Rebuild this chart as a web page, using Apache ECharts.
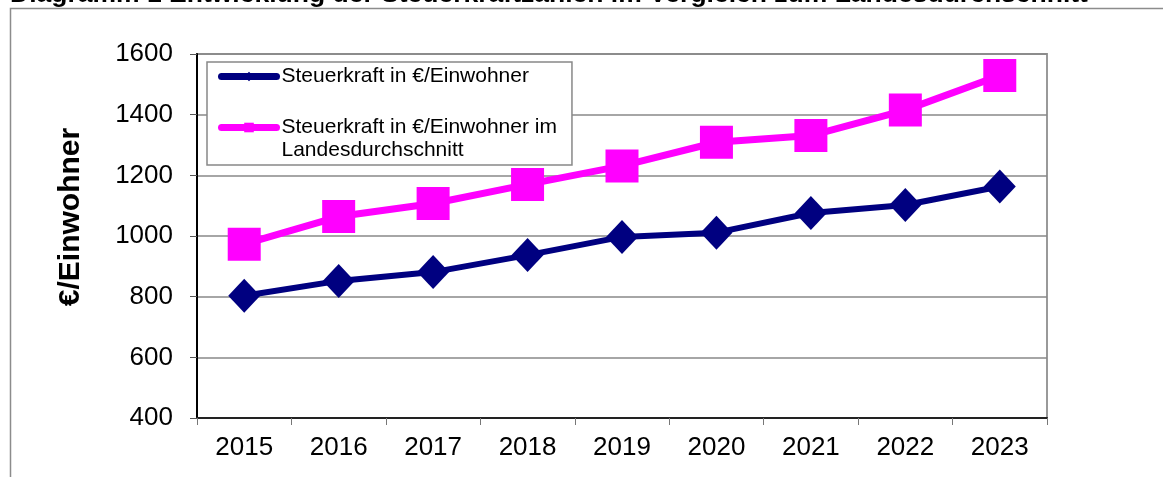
<!DOCTYPE html>
<html>
<head>
<meta charset="utf-8">
<script src="https://cdn.jsdelivr.net/npm/echarts@6/dist/echarts.min.js"></script>
<style>
  html, body { margin: 0; padding: 0; background: #fff; }
  #chart { width: 1163px; height: 477px; }
</style>
</head>
<body>
<div id="chart"></div>
<script>
const years = ['2015', '2016', '2017', '2018', '2019', '2020', '2021', '2022', '2023'];
const steuerkraft = [803, 852, 881, 937, 997, 1011, 1076, 1102, 1163];
const landesdurchschnitt = [973, 1064, 1107, 1170, 1231, 1309, 1331, 1415, 1529];
const yTicks = { min: 400, max: 1600, step: 200 };

const titleText = 'Diagramm 1 Entwicklung der Steuerkraftzahlen im Vergleich zum Landesdurchschnitt';
const name1 = 'Steuerkraft in €/Einwohner';
const name2 = 'Steuerkraft in €/Einwohner im\nLandesdurchschnitt';

const font = 'Liberation Sans, Arial, sans-serif';

const chart = echarts.init(document.getElementById('chart'));

const option = {
  backgroundColor: '#fff',
  animation: false,
  title: {
    text: titleText,
    left: 10,
    top: -19,
    padding: 0,
    textStyle: { fontFamily: font, fontSize: 26.5, fontWeight: 'bold', color: '#000' }
  },
  // outer chart frame, cut off at the right and bottom
  graphic: [{
    type: 'rect',
    shape: { x: 10.5, y: 8.5, width: 1300, height: 600 },
    style: { fill: 'none', stroke: '#8c8c8c', lineWidth: 1.5 },
    silent: true
  }],
  grid: { left: 197, right: 116, top: 54, bottom: 59, show: true, borderColor: '#999', borderWidth: 2, backgroundColor: 'transparent' },
  legend: {
    orient: 'vertical',
    left: 207,
    top: 62,
    padding: [3, 15, 3, 11],
    itemGap: 5,
    itemWidth: 55,
    itemHeight: 12,
    backgroundColor: '#fff',
    borderColor: '#888',
    borderWidth: 1.5,
    borderRadius: 0,
    lineStyle: { width: 7, cap: 'round' },
    textStyle: { fontFamily: font, fontSize: 21, color: '#000', lineHeight: 23 },
    // leading empty line keeps the first text line level with the icon
    formatter: n => (n === name2 ? '\n' + n : n),
    data: [name1, name2]
  },
  xAxis: {
    type: 'category',
    data: years,
    boundaryGap: true,
    axisLine: { lineStyle: { color: '#222', width: 2 } },
    axisTick: { show: true, length: 7, lineStyle: { color: '#777', width: 1 } },
    axisLabel: { fontFamily: font, fontSize: 26, color: '#000', margin: 17 }
  },
  yAxis: {
    type: 'value',
    min: yTicks.min,
    max: yTicks.max,
    interval: yTicks.step,
    name: '€/Einwohner',
    nameLocation: 'middle',
    nameGap: 111,
    nameTextStyle: { fontFamily: font, fontSize: 30, fontWeight: 'bold', color: '#000', padding: [0, 0, 0, 38] },
    axisLine: { show: true, lineStyle: { color: '#000', width: 2 } },
    axisTick: { show: true, length: 7, lineStyle: { color: '#555', width: 1 } },
    axisLabel: { fontFamily: font, fontSize: 26, color: '#000', margin: 24, formatter: v => String(v) },
    splitLine: { show: true, lineStyle: { color: '#888', width: 1.5 } }
  },
  series: [
    {
      name: name1,
      type: 'line',
      data: steuerkraft,
      symbol: 'diamond',
      symbolSize: [32, 34],
      color: '#000080',
      lineStyle: { color: '#000080', width: 6 },
      itemStyle: { color: '#000080' },
      z: 3
    },
    {
      name: name2,
      type: 'line',
      data: landesdurchschnitt,
      symbol: 'rect',
      symbolSize: 33,
      color: '#ff00ff',
      lineStyle: { color: '#ff00ff', width: 7 },
      itemStyle: { color: '#ff00ff' },
      z: 2
    }
  ]
};

chart.setOption(option);
</script>
</body>
</html>
